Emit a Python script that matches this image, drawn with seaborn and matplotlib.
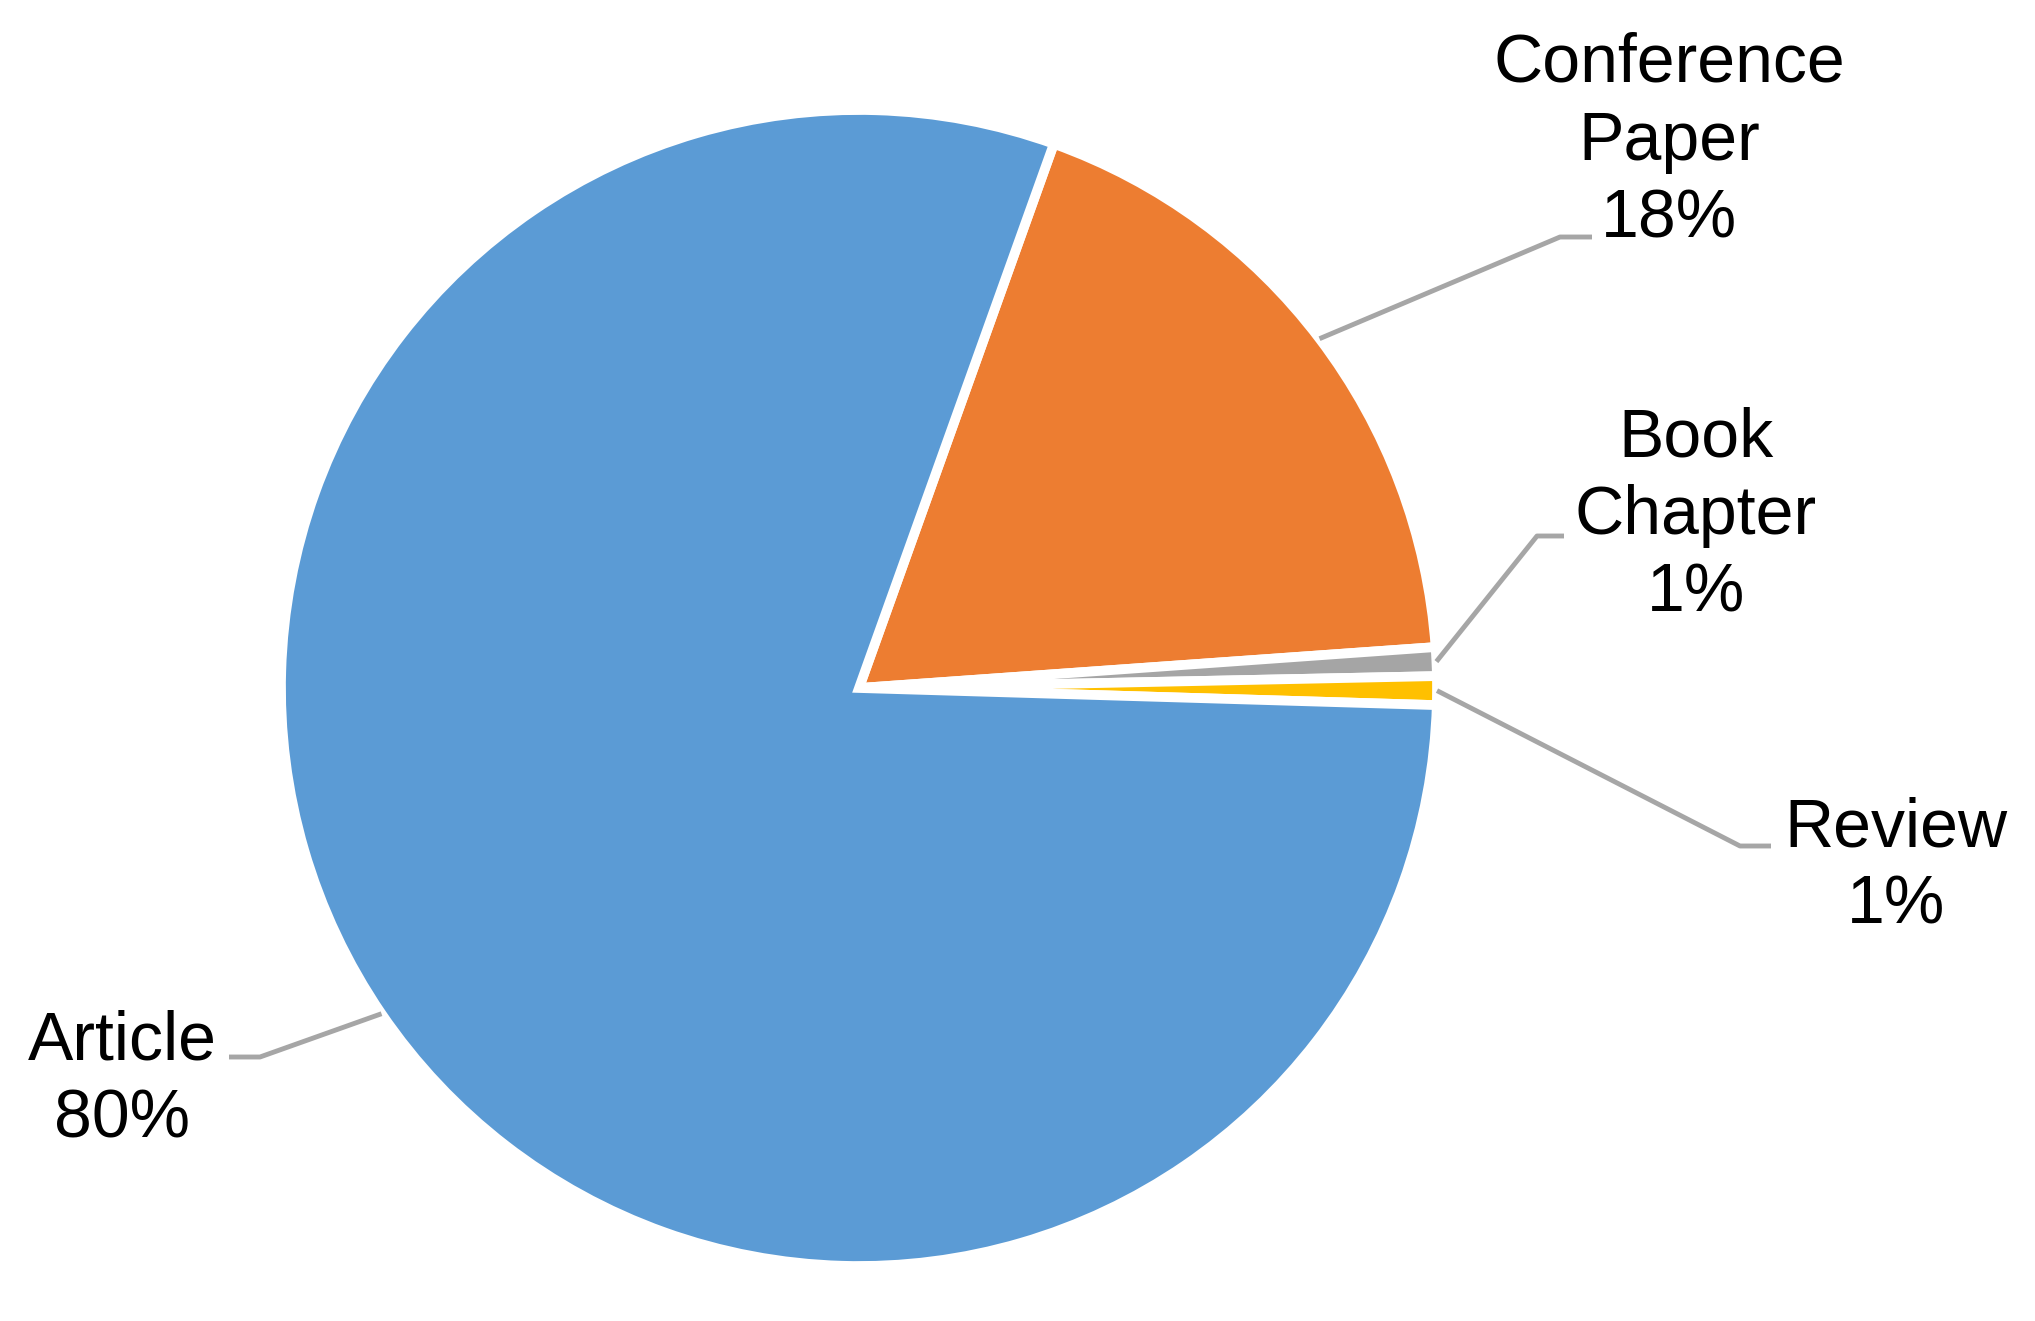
import matplotlib.pyplot as plt
import numpy as np
import seaborn as sns

# document types, clockwise from the top of the orange slice
categories = ['Conference\nPaper', 'Book\nChapter', 'Review', 'Article']
shares = [18.4, 0.8, 0.8, 80.0]
pct_labels = ['18%', '1%', '1%', '80%']
colors = ['#ED7D31', '#A5A5A5', '#FFC000', '#5B9BD5']

sns.set_theme(style='white')
plt.rcParams['font.family'] = ['Liberation Sans', 'DejaVu Sans']

W, H = 2035, 1321
cx, cy, scale = 859, 688, 578  # pie centre in px and px per unit radius


def to_data(px, py):
    return (px - cx) / scale, (cy - py) / scale


fig = plt.figure(figsize=(W / 100, H / 100), dpi=100)
ax = fig.add_axes([0, 0, 1, 1])

wedges, _ = ax.pie(shares, colors=sns.color_palette(colors), startangle=70.3,
                   counterclock=False,
                   wedgeprops=dict(edgecolor='white', linewidth=7))

ax.set_aspect('auto')
ax.set_xlim(-cx / scale, (W - cx) / scale)
ax.set_ylim(-(H - cy) / scale, cy / scale)
ax.axis('off')

# label layout in pixels: text centre / last baseline, leader elbow, leader end
text_px = [(1669, 237), (1696, 612), (1896, 924), (122, 1137)]
elbow_px = [(1560, 237), (1537, 536), (1740, 846), (260, 1057)]
end_px = [(1592, 237), (1564, 536), (1771, 846), (229, 1057)]

for w, name, pct, tp, ep, dp in zip(wedges, categories, pct_labels, text_px, elbow_px, end_px):
    mid = np.deg2rad((w.theta1 + w.theta2) / 2)
    start = (np.cos(mid) * 1.0, np.sin(mid) * 1.0)
    ex, ey = to_data(*ep)
    dx, dy = to_data(*dp)
    ax.plot([start[0], ex, dx], [start[1], ey, dy], color='#A6A6A6', lw=3.5,
            solid_capstyle='butt', zorder=1)
    tx, ty = to_data(*tp)
    ax.text(tx, ty, f'{name}\n{pct}', ha='center', va='baseline',
            multialignment='center', fontsize=49, linespacing=1.27, color='black')

fig.savefig('out.png', dpi=100)
